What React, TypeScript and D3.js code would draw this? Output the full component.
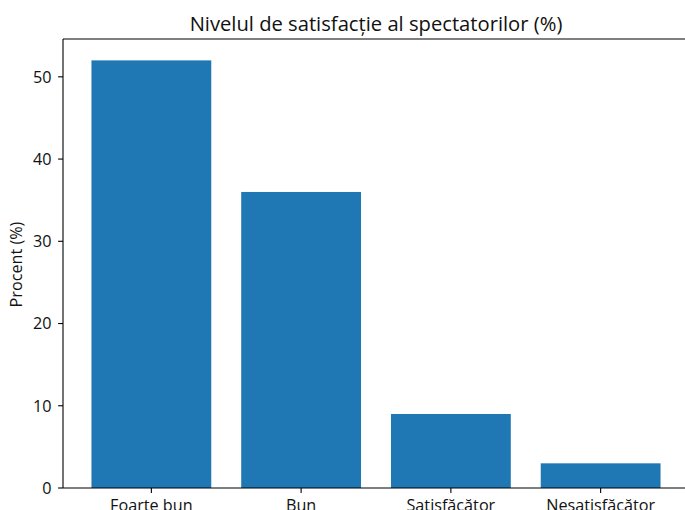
import React from "react";
import * as d3 from "d3";

const categories: string[] = ["Foarte bun", "Bun", "Satisfăcător", "Nesatisfăcător"];
const values: number[] = [52, 36, 9, 3];
const yTicks: number[] = [0, 10, 20, 30, 40, 50];
const title = "Nivelul de satisfacție al spectatorilor (%)";
const yLabel = "Procent (%)";

const W = 685;
const H = 510;
const left = 63;
const right = 689;
const top = 39;
const bottom = 488;
const font = "'Open Sans', 'Noto Sans', sans-serif";
const tickSize = 16.2;
const titleSize = 20.2;

export default function App() {
  const n = categories.length;
  const x = d3.scaleLinear().domain([-0.59, n - 1 + 0.59]).range([left, right]);
  const yMax = d3.max(values)! * 1.05;
  const y = d3.scaleLinear().domain([0, yMax]).range([bottom, top]);
  const bw = x(0.8) - x(0);
  return (
    <svg
      width={W}
      height={H}
      style={{ position: "absolute", left: 0, top: 0, background: "#fff" }}
      fontFamily={font}
    >
      <rect x={0} y={0} width={W} height={H} fill="#fff" />
      {values.map((v, i) => (
        <rect
          key={i}
          x={x(i) - bw / 2}
          y={y(v)}
          width={bw}
          height={y(0) - y(v)}
          fill="#1f77b4"
        />
      ))}
      <line x1={left} x2={left} y1={top} y2={bottom} stroke="#000" strokeWidth={1.1} />
      <line x1={left} x2={right} y1={bottom} y2={bottom} stroke="#000" strokeWidth={1.1} />
      <line x1={left} x2={right} y1={top} y2={top} stroke="#000" strokeWidth={1.1} />
      <line x1={right} x2={right} y1={top} y2={bottom} stroke="#000" strokeWidth={1.1} />
      {yTicks.map((t) => (
        <g key={t}>
          <line x1={left - 4.9} x2={left} y1={y(t)} y2={y(t)} stroke="#000" strokeWidth={1.1} />
          <text
            x={left - 11.5}
            y={y(t)}
            dy="0.36em"
            textAnchor="end"
            fontSize={tickSize}
            fill="#111"
          >
            {t}
          </text>
        </g>
      ))}
      {categories.map((c, i) => (
        <g key={c}>
          <line x1={x(i)} x2={x(i)} y1={bottom} y2={bottom + 4.9} stroke="#000" strokeWidth={1.1} />
          <text
            x={x(i)}
            y={bottom + 23}
            textAnchor="middle"
            fontSize={tickSize}
            fill="#111"
          >
            {c}
          </text>
        </g>
      ))}
      <text
        transform={`translate(21.5,${(top + bottom) / 2 + 1}) rotate(-90)`}
        textAnchor="middle"
        fontSize={tickSize}
        fill="#111"
      >
        {yLabel}
      </text>
      <text
        x={(left + right) / 2}
        y={top - 8}
        textAnchor="middle"
        fontSize={titleSize}
        fill="#111"
      >
        {title}
      </text>
    </svg>
  );
}
